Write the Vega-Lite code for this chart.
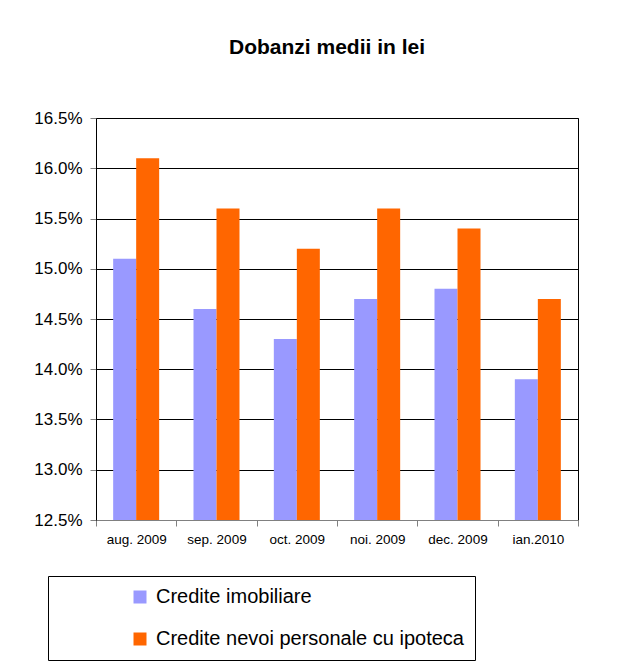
{
  "$schema": "https://vega.github.io/schema/vega-lite/v6.json",
  "width": 482,
  "height": 402,
  "autosize": {"type": "none"},
  "padding": {"left": 96, "top": 118, "right": 48, "bottom": 142},
  "background": "white",
  "title": {
    "text": "Dobanzi medii in lei",
    "font": "Liberation Sans",
    "fontSize": 21,
    "fontWeight": "bold",
    "color": "black",
    "anchor": "middle",
    "offset": 51,
    "dx": -10
  },
  "data": {
    "values": [
      {"luna": "aug. 2009", "serie": "Credite imobiliare", "rata": 0.151},
      {"luna": "aug. 2009", "serie": "Credite nevoi personale cu ipoteca", "rata": 0.161},
      {"luna": "sep. 2009", "serie": "Credite imobiliare", "rata": 0.146},
      {"luna": "sep. 2009", "serie": "Credite nevoi personale cu ipoteca", "rata": 0.156},
      {"luna": "oct. 2009", "serie": "Credite imobiliare", "rata": 0.143},
      {"luna": "oct. 2009", "serie": "Credite nevoi personale cu ipoteca", "rata": 0.152},
      {"luna": "noi. 2009", "serie": "Credite imobiliare", "rata": 0.147},
      {"luna": "noi. 2009", "serie": "Credite nevoi personale cu ipoteca", "rata": 0.156},
      {"luna": "dec. 2009", "serie": "Credite imobiliare", "rata": 0.148},
      {"luna": "dec. 2009", "serie": "Credite nevoi personale cu ipoteca", "rata": 0.154},
      {"luna": "ian.2010", "serie": "Credite imobiliare", "rata": 0.139},
      {"luna": "ian.2010", "serie": "Credite nevoi personale cu ipoteca", "rata": 0.147}
    ]
  },
  "mark": {"type": "bar", "clip": true},
  "encoding": {
    "x": {
      "field": "luna",
      "type": "nominal",
      "sort": null,
      "title": null,
      "scale": {"paddingInner": 0, "paddingOuter": 0},
      "axis": {
        "labelAngle": 0,
        "labelFont": "Liberation Sans",
        "labelFontSize": 13.5,
        "labelColor": "black",
        "tickBand": "extent",
        "tickSize": 6,
        "tickColor": "#808080",
        "domainColor": "#808080",
        "labelPadding": 6,
        "grid": false
      }
    },
    "xOffset": {
      "field": "serie",
      "type": "nominal",
      "sort": ["Credite imobiliare", "Credite nevoi personale cu ipoteca"],
      "scale": {"paddingInner": 0, "paddingOuter": 0.746}
    },
    "y": {
      "field": "rata",
      "type": "quantitative",
      "title": null,
      "scale": {"domain": [0.125, 0.165], "zero": false, "nice": false},
      "axis": {
        "values": [0.125, 0.13, 0.135, 0.14, 0.145, 0.15, 0.155, 0.16, 0.165],
        "format": ".1%",
        "labelFont": "Liberation Sans",
        "labelFontSize": 17,
        "labelColor": "black",
        "tickSize": 6,
        "tickColor": "#808080",
        "domainColor": "black",
        "labelPadding": 8,
        "grid": true,
        "gridColor": "black",
        "gridOpacity": 1,
        "gridWidth": 1
      }
    },
    "color": {
      "field": "serie",
      "type": "nominal",
      "sort": ["Credite imobiliare", "Credite nevoi personale cu ipoteca"],
      "scale": {
        "domain": ["Credite imobiliare", "Credite nevoi personale cu ipoteca"],
        "range": ["#9999FF", "#FF6600"]
      },
      "legend": {
        "title": null,
        "orient": "none",
        "legendX": -48,
        "legendY": 458,
        "direction": "vertical",
        "symbolType": "square",
        "symbolSize": 169,
        "symbolOffset": 71,
        "symbolStrokeWidth": 0,
        "labelFont": "Liberation Sans",
        "labelFontSize": 20,
        "labelColor": "black",
        "labelOffset": 6,
        "labelLimit": 500,
        "rowPadding": 22,
        "padding": 11,
        "strokeColor": "black",
        "fillColor": "white"
      }
    }
  },
  "config": {
    "view": {"stroke": "black", "strokeWidth": 1}
  }
}
